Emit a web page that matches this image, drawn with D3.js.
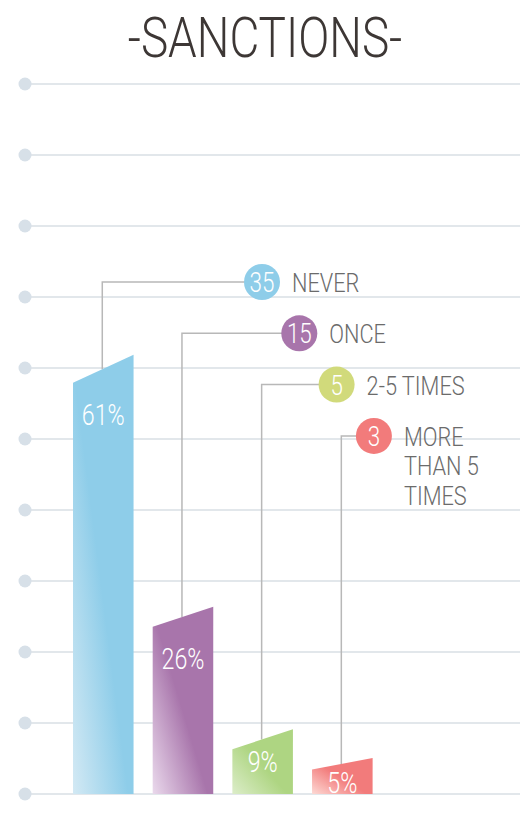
<!DOCTYPE html>
<html>
<head>
<meta charset="utf-8">
<script src="https://cdn.jsdelivr.net/npm/d3@7"></script>
<style>
  html, body { margin: 0; padding: 0; background: #ffffff; }
  svg { display: block; }
  text { font-family: Roboto, "Open Sans", sans-serif; }
</style>
</head>
<body>
<div id="chart"></div>
<script>
// ---- data ----
const title = "-SANCTIONS-";
const categories = ["NEVER", "ONCE", "2-5 TIMES", "MORE THAN 5 TIMES"];
const labelLines = [["NEVER"], ["ONCE"], ["2-5 TIMES"], ["MORE", "THAN 5", "TIMES"]];
const percents = [61, 26, 9, 5];
const counts = [35, 15, 5, 3];
const gridTicks = d3.range(0, 11, 1);

// ---- styling ----
const barColors = ["#8ecde9", "#a875ab", "#aed582", "#f27b7b"];
const lightColors = ["#d3e9f4", "#ead9ec", "#dcedc9", "#fdd9d4"];
const dotColors = ["#8ecde9", "#a875ab", "#d1da7b", "#f27b7b"];

const W = 520, H = 818;
const baseY = 794;
const svg = d3.select("#chart").append("svg").attr("width", W).attr("height", H);

const y = d3.scaleLinear().domain([0, 100]).range([baseY, 74]);
const gridY = d3.scaleLinear().domain([0, 10]).range([baseY, 84]);
const x = d3.scaleBand().domain(categories).range([73, 372.6]).paddingInner(0.24).paddingOuter(0);

// gradients
const defs = svg.append("defs");
categories.forEach((c, i) => {
  const g = defs.append("linearGradient").attr("id", "g" + i)
    .attr("x1", 0).attr("y1", 1).attr("x2", 0.75).attr("y2", 0.3);
  g.append("stop").attr("offset", 0).attr("stop-color", lightColors[i]);
  g.append("stop").attr("offset", 0.65).attr("stop-color", barColors[i]);
  g.append("stop").attr("offset", 1).attr("stop-color", barColors[i]);
});

// gridlines
const grid = svg.append("g");
grid.selectAll("line").data(gridTicks).join("line")
  .attr("x1", 25).attr("x2", W)
  .attr("y1", d => gridY(d)).attr("y2", d => gridY(d))
  .attr("stroke", "#e2e7eb").attr("stroke-width", 2);
grid.selectAll("circle").data(gridTicks).join("circle")
  .attr("cx", 25).attr("cy", d => gridY(d)).attr("r", 6.5)
  .attr("fill", "#d7e0e8");

// title
svg.append("text")
  .attr("transform", `translate(265,57) scale(0.82,1)`)
  .attr("text-anchor", "middle")
  .attr("font-size", 56).attr("font-weight", 300)
  .attr("fill", "#3d3735")
  .text(title);

// bar geometry
function slantOf(v) {
  const h = baseY - y(v);
  return h > 300 ? 28 : Math.min(20, h * 0.32);
}
function leftTop(v) { return y(v) + slantOf(v); }
function topAt(v, i, px) {
  const x0 = x(categories[i]), bw = x.bandwidth();
  const t = (px - x0) / bw;
  return leftTop(v) + (y(v) - leftTop(v)) * t;
}

const legendX = i => 262 + i * 37.3;
const legendY = i => 282 + i * 51.3;

// connectors
svg.append("g").selectAll("path").data(percents).join("path")
  .attr("d", (v, i) => {
    const cx = x(categories[i]) + x.bandwidth() / 2 - 1;
    return `M${cx},${topAt(v, i, cx)} V${legendY(i)} H${legendX(i)}`;
  })
  .attr("fill", "none").attr("stroke", "#b8b8b8").attr("stroke-width", 1.5);

// bars
svg.append("g").selectAll("path").data(percents).join("path")
  .attr("d", (v, i) => {
    const x0 = x(categories[i]), x1 = x0 + x.bandwidth();
    return `M${x0},${baseY} L${x0},${leftTop(v)} L${x1},${y(v)} L${x1},${baseY} Z`;
  })
  .attr("fill", (v, i) => `url(#g${i})`);

// percent labels
svg.append("g").selectAll("text").data(percents).join("text")
  .attr("transform", (v, i) => {
    const h = baseY - y(v);
    const by = leftTop(v) + (h > 100 ? 42 : 23);
    return `translate(${x(categories[i]) + x.bandwidth() / 2},${by}) scale(0.8,1)`;
  })
  .attr("text-anchor", "middle")
  .attr("font-size", 29).attr("font-weight", 300)
  .attr("fill", "#ffffff")
  .text(v => v + "%");

// legend circles
const leg = svg.append("g");
leg.selectAll("circle").data(counts).join("circle")
  .attr("cx", (d, i) => legendX(i)).attr("cy", (d, i) => legendY(i))
  .attr("r", 18).attr("fill", (d, i) => dotColors[i]);
leg.selectAll("text.num").data(counts).join("text").attr("class", "num")
  .attr("transform", (d, i) => `translate(${legendX(i)},${legendY(i) + 10}) scale(0.8,1)`)
  .attr("text-anchor", "middle")
  .attr("font-size", 28).attr("font-weight", 300)
  .attr("fill", "#ffffff")
  .text(d => d);

// legend labels (multi-line labels as one text with tspans)
labelLines.forEach((lines, i) => {
  const t = leg.append("text")
    .attr("transform", `translate(${legendX(i) + 30},${legendY(i) + 10}) scale(0.87,1)`)
    .attr("font-size", 25).attr("font-weight", 300)
    .attr("fill", "#6b6b6b");
  lines.forEach((ln, k) => {
    t.append("tspan").attr("x", 0).attr("y", k * 29.5).text(ln);
  });
});
</script>
</body>
</html>
